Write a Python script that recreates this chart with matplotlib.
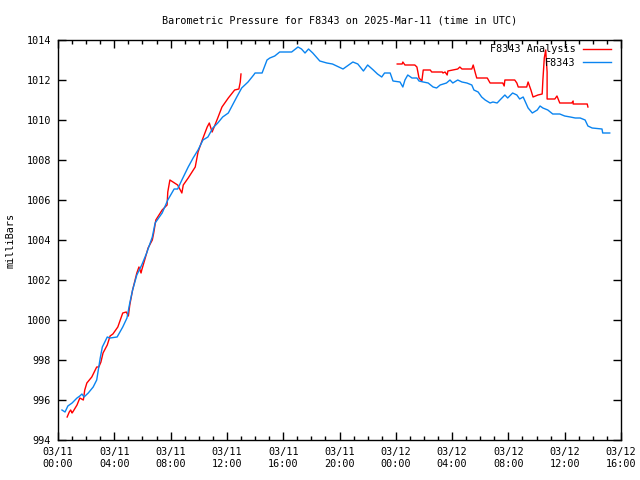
import matplotlib

matplotlib.use("Agg")
import matplotlib.pyplot as plt
from matplotlib.ticker import MultipleLocator

# hours since 2025-03-11 00:00 UTC
obs_hours = [0.28, 0.5, 0.7, 1.0, 1.35, 1.55, 1.7, 1.85, 2.15, 2.5, 2.75, 3.0, 3.15,
             3.5, 3.7, 4.2, 4.4, 4.6, 4.9, 5.1, 5.3, 5.6, 5.95, 6.3, 6.7, 6.9, 7.4,
             7.8, 8.25, 8.5, 8.8, 9.25, 9.6, 9.95, 10.3, 10.65, 11.0, 11.35, 11.7,
             12.1, 12.7, 13.05, 13.5, 13.9, 14.0, 14.5, 14.85, 15.05, 15.4, 15.75,
             16.6, 17.05, 17.3, 17.55, 17.8, 18.1, 18.6, 19.1, 19.5, 20.25, 20.95,
             21.3, 21.7, 22.0, 22.4, 22.7, 23.0, 23.2, 23.6, 23.8, 24.3, 24.5, 24.65,
             24.85, 25.15, 25.5, 25.65, 25.95, 26.3, 26.65, 26.9, 27.15, 27.6, 27.85,
             28.05, 28.4, 28.7, 29.05, 29.4, 29.55, 29.85, 30.1, 30.35, 30.7, 30.9,
             31.2, 31.4, 31.75, 31.95, 32.3, 32.6, 32.8, 33.05, 33.4, 33.7, 34.05,
             34.25, 34.45, 34.8, 35.15, 35.65, 36.0, 36.4, 36.75, 37.1, 37.45, 37.65,
             37.95, 38.65, 38.7, 39.2]
obs_mb = [995.5, 995.4, 995.7, 995.85, 996.1, 996.2, 996.3, 996.15, 996.35, 996.65,
          997.0, 998.1, 998.65, 999.15, 999.1, 999.15, 999.4, 999.65, 1000.1,
          1000.85, 1001.5, 1002.25, 1002.75, 1003.35, 1004.15, 1004.85, 1005.35,
          1006.0, 1006.55, 1006.55, 1007.0, 1007.65, 1008.1, 1008.5, 1009.0, 1009.15,
          1009.6, 1009.85, 1010.15, 1010.35, 1011.15, 1011.6, 1011.9, 1012.25,
          1012.35, 1012.35, 1013.0, 1013.1, 1013.2, 1013.4, 1013.4, 1013.65,
          1013.55, 1013.35, 1013.55, 1013.35, 1012.95, 1012.85, 1012.8, 1012.55,
          1012.9, 1012.8, 1012.45, 1012.75, 1012.5, 1012.3, 1012.15, 1012.35,
          1012.35, 1011.95, 1011.9, 1011.65, 1012.0, 1012.25, 1012.1, 1012.1,
          1011.95, 1011.9, 1011.85, 1011.65, 1011.6, 1011.75, 1011.85, 1012.0,
          1011.85, 1012.0, 1011.9, 1011.85, 1011.75, 1011.5, 1011.4, 1011.15,
          1011.0, 1010.85, 1010.9, 1010.85, 1011.0, 1011.25, 1011.1, 1011.35,
          1011.25, 1011.05, 1011.15, 1010.6, 1010.35, 1010.5, 1010.7, 1010.6,
          1010.5, 1010.3, 1010.3, 1010.2, 1010.15, 1010.1, 1010.1, 1010.0, 1009.7,
          1009.6, 1009.55, 1009.35, 1009.35]

# analysis series, two runs with a gap between them
ana1_hours = [0.65, 0.8, 0.9, 1.0, 1.05, 1.35, 1.55, 1.8, 1.9, 2.05, 2.4, 2.75, 2.9,
              3.05, 3.2, 3.5, 3.7, 3.9, 4.25, 4.6, 4.85, 5.0, 5.1, 5.3, 5.6, 5.75,
              5.9, 5.95, 6.2, 6.4, 6.7, 6.8, 6.95, 7.4, 7.75, 7.8, 7.95, 8.5, 8.8,
              8.9, 9.25, 9.75, 9.95, 10.25, 10.6, 10.75, 10.95, 11.15, 11.35, 11.65,
              11.85, 12.1, 12.55, 12.85, 12.95, 13.0]
ana1_mb = [995.15, 995.4, 995.5, 995.35, 995.4, 995.75, 996.1, 996.0, 996.5, 996.85,
           997.15, 997.65, 997.65, 997.9, 998.35, 998.75, 999.2, 999.3, 999.65,
           1000.35, 1000.4, 1000.2, 1000.75, 1001.5, 1002.35, 1002.65, 1002.35,
           1002.5, 1003.1, 1003.6, 1004.0, 1004.35, 1005.0, 1005.5, 1005.75, 1006.4,
           1007.0, 1006.75, 1006.35, 1006.75, 1007.1, 1007.65, 1008.4, 1009.0,
           1009.65, 1009.85, 1009.4, 1009.75, 1010.1, 1010.65, 1010.85, 1011.1,
           1011.5, 1011.55, 1011.9, 1012.3]
ana2_hours = [24.1, 24.45, 24.5, 24.65, 25.35, 25.5, 25.65, 25.85, 25.95, 26.45, 26.55,
              27.3, 27.35, 27.5, 27.65, 27.7, 28.4, 28.55, 28.7, 29.4, 29.5, 29.65,
              29.75, 30.5, 30.7, 31.6, 31.7, 31.75, 32.45, 32.6, 32.7, 33.3, 33.4,
              33.6, 33.75, 34.1, 34.4, 34.45, 34.55, 34.65, 34.75, 34.75, 35.3, 35.45,
              35.65, 36.5, 36.6, 36.6, 37.6, 37.65]
ana2_mb = [1012.8, 1012.8, 1012.9, 1012.75, 1012.75, 1012.65, 1012.1, 1011.95, 1012.5,
           1012.5, 1012.4, 1012.4, 1012.35, 1012.4, 1012.25, 1012.45, 1012.55,
           1012.65, 1012.55, 1012.55, 1012.75, 1012.35, 1012.1, 1012.1, 1011.85,
           1011.85, 1011.7, 1012.0, 1012.0, 1011.85, 1011.65, 1011.65, 1011.9, 1011.5,
           1011.15, 1011.25, 1011.3, 1012.0, 1013.1, 1013.5, 1012.4, 1011.05, 1011.05,
           1011.2, 1010.85, 1010.85, 1010.95, 1010.8, 1010.8, 1010.65]

tick_hours = list(range(0, 41, 4))
tick_labels = ["03/11\n00:00", "03/11\n04:00", "03/11\n08:00", "03/11\n12:00",
               "03/11\n16:00", "03/11\n20:00", "03/12\n00:00", "03/12\n04:00",
               "03/12\n08:00", "03/12\n12:00", "03/12\n16:00"]

RED = "#ff0000"
BLUE = "#0a84f0"
MONO = "DejaVu Sans Mono"
FS = 7.3

fig = plt.figure(figsize=(6.4, 4.8), dpi=100)
ax = fig.add_axes([58 / 640, 40 / 480, 563 / 640, 400 / 480])

ax.plot(ana1_hours, ana1_mb, color=RED, lw=1, label="F8343 Analysis")
ax.plot(ana2_hours, ana2_mb, color=RED, lw=1)
ax.plot(obs_hours, obs_mb, color=BLUE, lw=1, label="F8343")

ax.set_xlim(0, 40)
ax.set_ylim(994, 1014)
ax.set_xticks(tick_hours)
ax.set_xticklabels(tick_labels)
ax.xaxis.set_minor_locator(MultipleLocator(1))
ax.yaxis.set_major_locator(MultipleLocator(2))
ax.tick_params(which="both", direction="in", top=True, right=True, width=1,
               labelsize=FS, pad=5)
ax.tick_params(which="major", length=6)
ax.tick_params(which="minor", length=3)
for lbl in ax.get_xticklabels() + ax.get_yticklabels():
    lbl.set_fontfamily(MONO)
for sp in ax.spines.values():
    sp.set_linewidth(1)

ax.set_ylabel("milliBars", fontsize=FS, family=MONO, labelpad=8)
ax.set_title("Barometric Pressure for F8343 on 2025-Mar-11 (time in UTC)",
             fontsize=FS, family=MONO, pad=12)

leg = ax.legend(loc="upper right", bbox_to_anchor=(1.0, 1.015), frameon=False,
                markerfirst=False, prop={"family": MONO, "size": FS},
                handlelength=2.7, borderaxespad=0.6, labelspacing=0.38,
                handletextpad=0.8)
for t in leg.get_texts():
    t.set_ha("right")

fig.savefig("out.png", dpi=100)
